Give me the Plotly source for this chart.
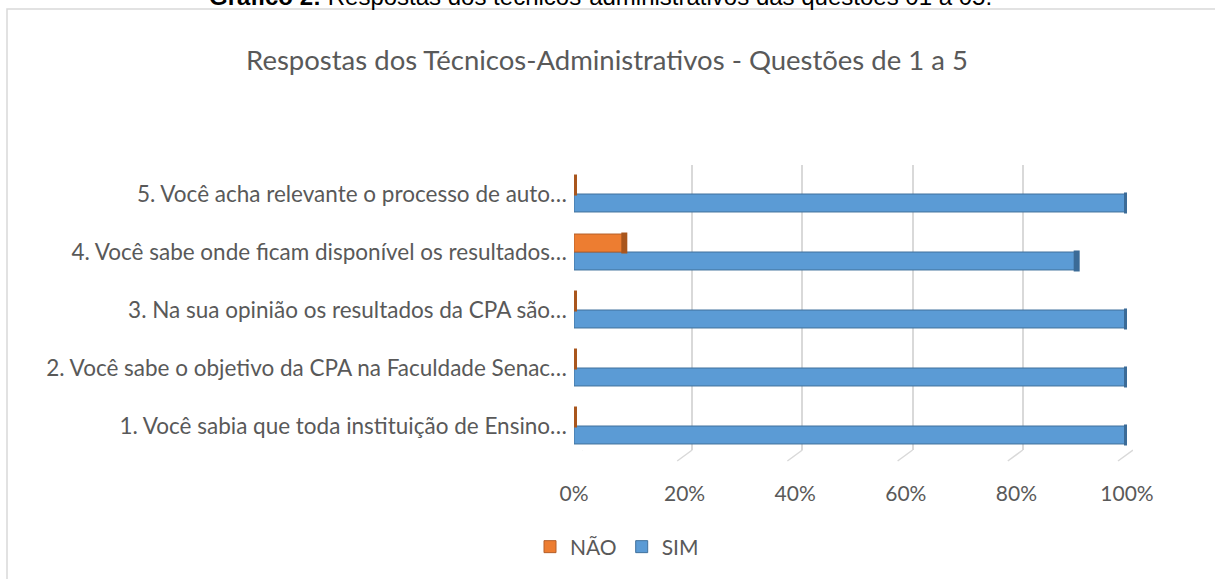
import plotly.graph_objects as go

W, H = 1215, 579

def px(x):
    return x / W

def py(y):
    return 1 - y / H

categories = [
    "1. Você sabia que toda instituição de Ensino…",
    "2. Você sabe o objetivo da CPA na Faculdade Senac…",
    "3. Na sua opinião os resultados da CPA são…",
    "4. Você sabe onde ficam disponível os resultados…",
    "5. Você acha relevante o processo de auto…",
]
sim_values = [1.0, 1.0, 1.0, 0.909, 1.0]
nao_values = [0.0, 0.0, 0.0, 0.091, 0.0]
tick_values = [0, 0.2, 0.4, 0.6, 0.8, 1.0]
tick_labels = ["0%", "20%", "40%", "60%", "80%", "100%"]

title_text = "Respostas dos Técnicos-Administrativos - Questões de 1 a 5"
caption_text = "<b>Gráfico 2:</b> Respostas dos técnicos-administrativos das questões 01 a 05."

BLUE = "#5b9bd5"
BLUE_EDGE = "#41719c"
BLUE_CAP = "#3b6b97"
ORANGE = "#ed7d31"
ORANGE_EDGE = "#b5602a"
ORANGE_CAP = "#a9561d"
TEXT = "#595959"
GRID = "#d9d9d9"
FONT = "Lato, 'Open Sans', sans-serif"

fig = go.Figure()

# bars live on the x2/y2 subplot so they are drawn in front of the back-wall grid
fig.add_trace(go.Bar(
    y=categories, x=sim_values, orientation="h", name="SIM",
    xaxis="x2", yaxis="y2",
    marker=dict(color=BLUE, line=dict(color=BLUE_EDGE, width=1)),
    offsetgroup="sim", legendrank=2,
))
fig.add_trace(go.Bar(
    y=categories, x=nao_values, orientation="h", name="NÃO",
    xaxis="x2", yaxis="y2",
    marker=dict(color=ORANGE, line=dict(color=ORANGE_EDGE, width=1)),
    offsetgroup="nao", legendrank=1,
))
# cylinder end caps
fig.add_trace(go.Scatter(
    y=categories, x=sim_values, mode="markers", showlegend=False,
    xaxis="x2", yaxis="y2",
    orientation="h", offsetgroup="sim", hoverinfo="skip",
    marker=dict(symbol="line-ns", size=15, color=BLUE_CAP,
                line=dict(color=BLUE_CAP, width=6)),
))
fig.add_trace(go.Scatter(
    y=categories, x=nao_values, mode="markers", showlegend=False,
    xaxis="x2", yaxis="y2",
    orientation="h", offsetgroup="nao", hoverinfo="skip",
    marker=dict(symbol="line-ns", size=15, color=ORANGE_CAP,
                line=dict(color=ORANGE_CAP, width=6)),
))

shapes = [
    dict(type="rect", xref="paper", yref="paper",
         x0=px(7), x1=px(1230), y0=py(9), y1=py(600),
         line=dict(color=GRID, width=1.5), layer="below"),
]
# slanted floor lines of the 3D walls
for v in tick_values:
    shapes.append(dict(
        type="line", xref="x", yref="paper",
        xsizemode="pixel", xanchor=v, x0=0, x1=-15,
        ysizemode="pixel", yanchor=py(450), y0=0, y1=-11,
        line=dict(color=GRID, width=1.5), layer="below"))

fig.update_layout(
    template="none",
    width=W, height=H, autosize=False,
    margin=dict(l=0, r=0, t=0, b=0, pad=0, autoexpand=False),
    paper_bgcolor="white", plot_bgcolor="rgba(0,0,0,0)",
    barmode="group", bargap=0.38, bargroupgap=0,
    scattermode="group",
    font=dict(family=FONT, color=TEXT, size=20),
    title=dict(text=title_text, x=px(607), xanchor="center",
               y=py(60), yanchor="middle", xref="paper", yref="paper",
               font=dict(family=FONT, size=27.5, color=TEXT)),
    showlegend=True,
    legend=dict(orientation="h", x=px(617), xanchor="center",
                y=py(547), yanchor="middle",
                font=dict(family=FONT, size=21, color=TEXT),
                traceorder="normal", itemwidth=30, bgcolor="rgba(0,0,0,0)"),
    # back-wall grid axis
    xaxis=dict(domain=[px(582), px(1133)], range=[0, 1], automargin=False,
               tickvals=tick_values, showticklabels=False, ticks="",
               showgrid=True, gridcolor=GRID, gridwidth=1.5,
               zeroline=False, showline=False, anchor="y"),
    yaxis=dict(domain=[py(450), py(165)], range=[0, 1], automargin=False,
               visible=False, anchor="x"),
    # bar axis
    xaxis2=dict(domain=[px(574), px(1127)], range=[0, 1], automargin=False,
                tickvals=tick_values, ticktext=tick_labels,
                showgrid=False, zeroline=False, showline=False,
                ticks="", ticklabelstandoff=24, anchor="y2",
                tickfont=dict(family=FONT, size=21, color=TEXT)),
    yaxis2=dict(domain=[py(455), py(165)], range=[-0.5, 4.5], automargin=False,
                showgrid=False, zeroline=False, showline=False,
                ticks="", ticklabelstandoff=6, anchor="x2",
                tickfont=dict(family=FONT, size=22.5, color=TEXT)),
    shapes=shapes,
    annotations=[dict(text=caption_text, xref="paper", yref="paper",
                      x=px(600), y=py(12), xanchor="center", yanchor="bottom",
                      showarrow=False,
                      font=dict(family="Liberation Sans, Arial", size=24, color="#000000"))],
)

fig.write_html("out.html", config={"displayModeBar": False},
               post_script="document.body.style.margin='0';")
